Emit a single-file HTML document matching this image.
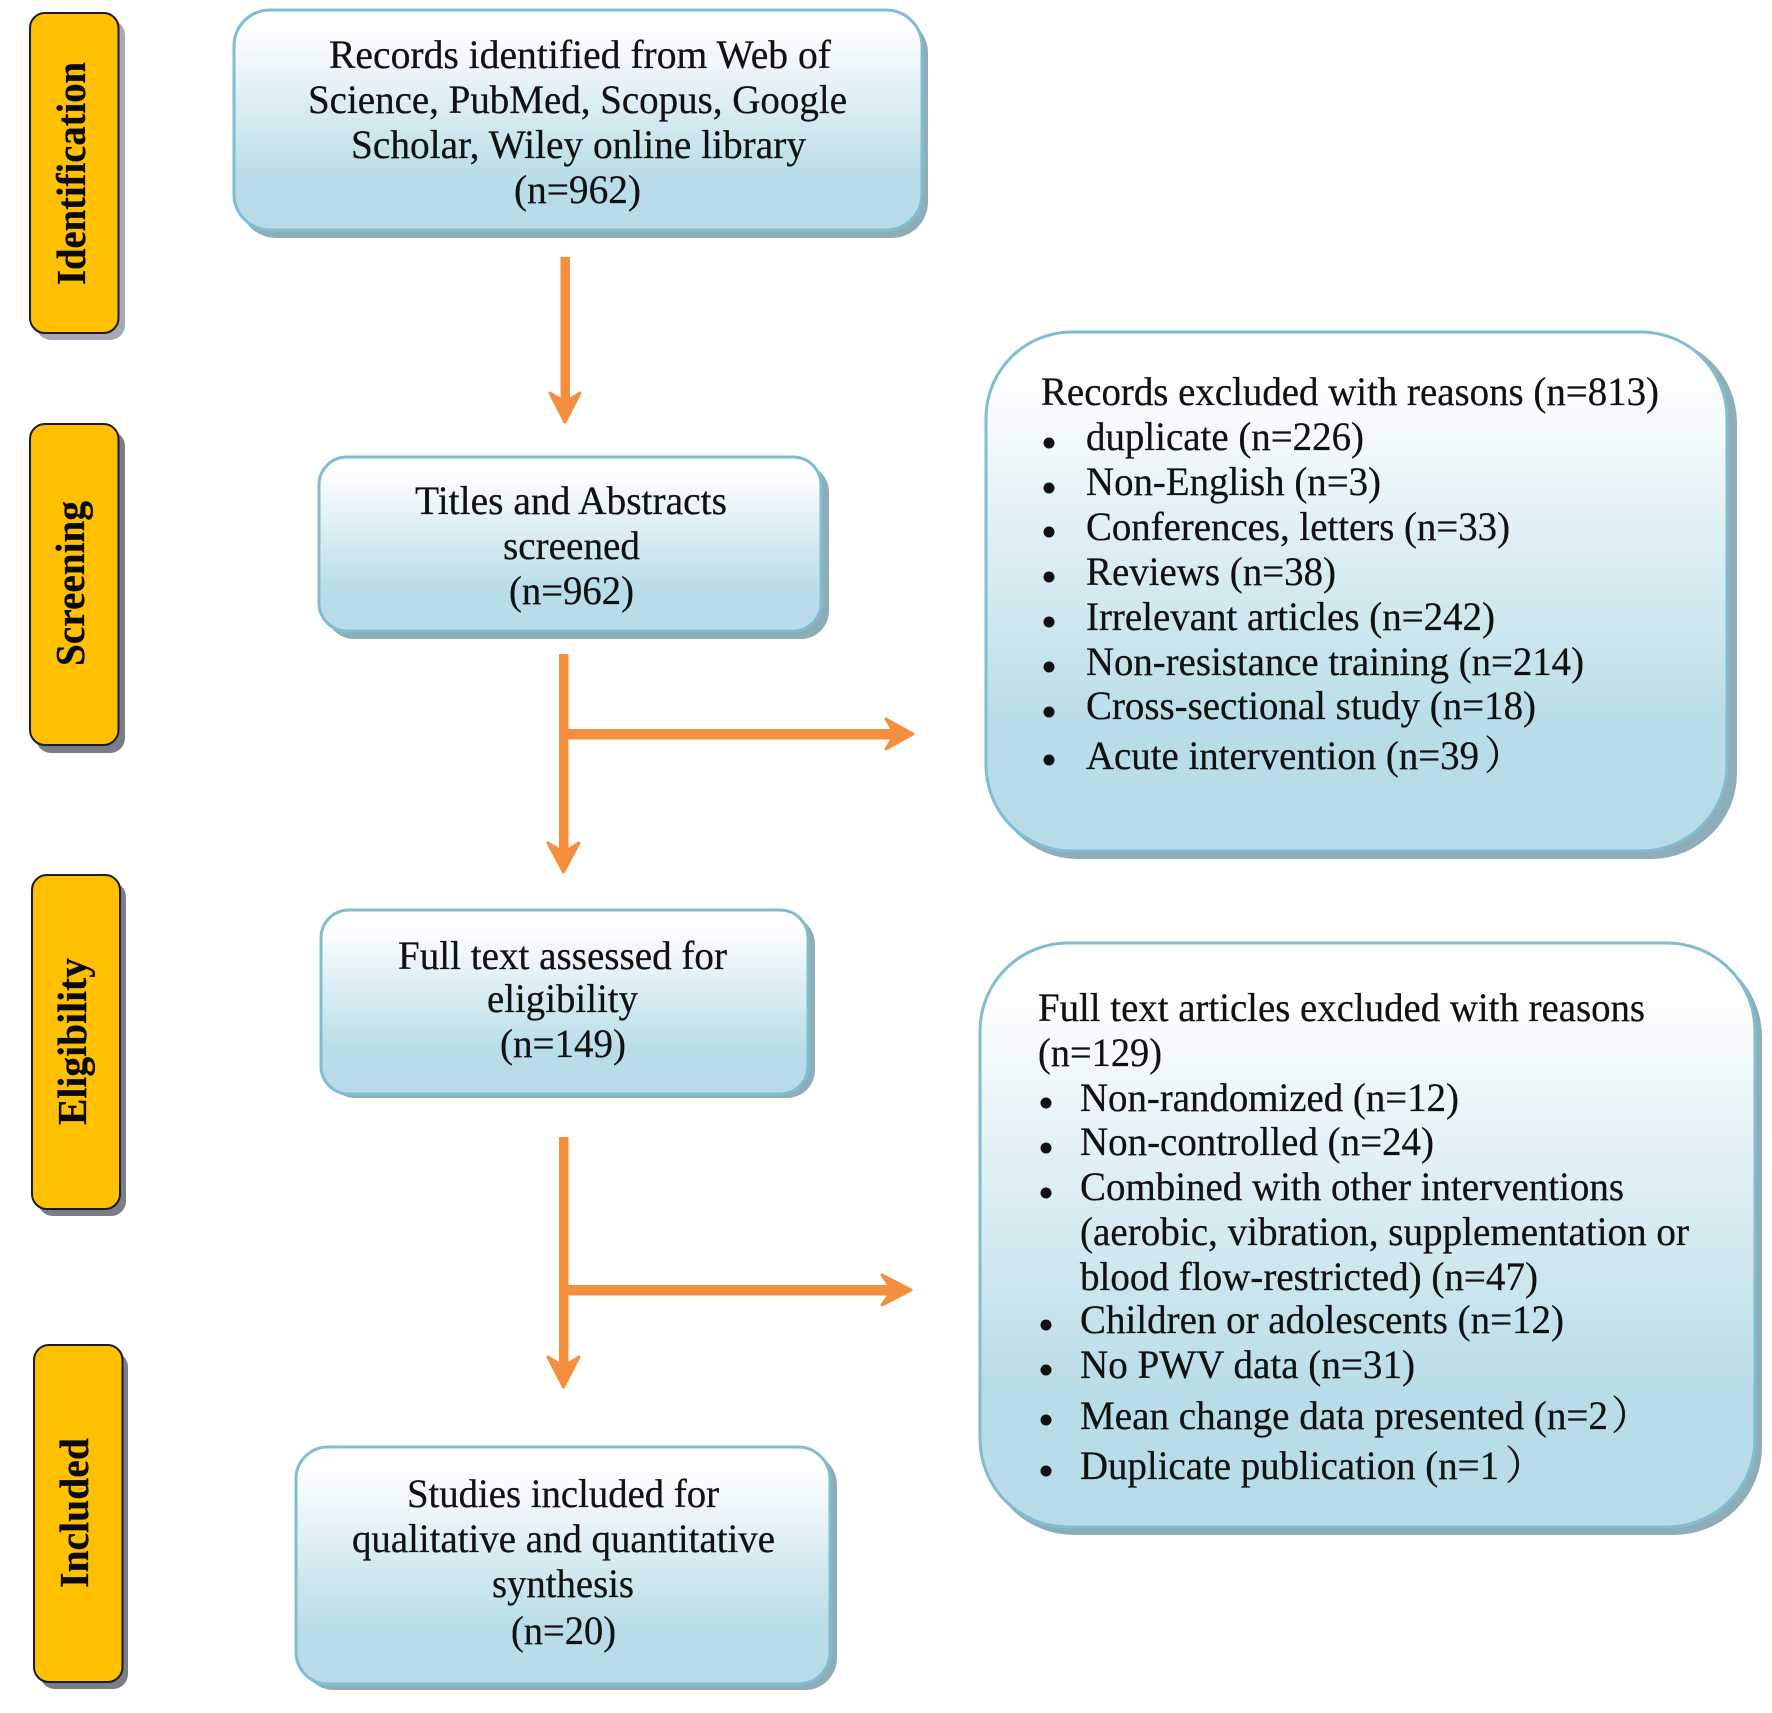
<!DOCTYPE html>
<html><head><meta charset="utf-8">
<style>
html,body{margin:0;padding:0;background:#fff;width:1772px;height:1713px;overflow:hidden}
svg{display:block}
text{font-family:"Liberation Serif","Noto Serif CJK SC",serif;font-size:40px;fill:#111;stroke:#111;stroke-width:.25px}
.p{font-weight:bold;font-size:41px;fill:#0a0a0a}
.box{fill:url(#g);stroke:#7fbdd0;stroke-width:3}
.bs{fill:#8fadb8}
.pill{fill:#FFC000;stroke:#1c1c1c;stroke-width:2}
.ps{fill:#7c7c88}
.a{fill:#F58F3E}
.h{fill:#F58F3E;stroke:#F58F3E;stroke-width:3;stroke-linejoin:round}
</style></head><body>
<svg xmlns="http://www.w3.org/2000/svg" width="1772" height="1713" viewBox="0 0 1772 1713">
<defs>
<linearGradient id="g" x1="0" y1="0" x2="0" y2="1">
<stop offset="0" stop-color="#ffffff"/><stop offset=".12" stop-color="#fbfdfe"/><stop offset=".76" stop-color="#b9dde8"/><stop offset="1" stop-color="#b7dbe7"/>
</linearGradient>
</defs>

<!-- side pills -->
<rect class="ps" style="fill:#a8a8b2" x="36" y="20" width="89" height="320" rx="15"/>
<rect class="pill" x="30" y="13" width="88.5" height="320" rx="15"/>
<rect class="ps" x="36" y="431" width="89" height="322" rx="15"/>
<rect class="pill" x="30" y="424" width="88.5" height="321" rx="15"/>
<rect class="ps" x="38" y="882" width="88" height="334" rx="15"/>
<rect class="pill" x="32" y="875" width="88" height="334" rx="15"/>
<rect class="ps" x="40" y="1352" width="88" height="337" rx="15"/>
<rect class="pill" x="34" y="1345" width="88.5" height="337" rx="15"/>
<text class="p" transform="translate(85,285) rotate(-90)" textLength="223" lengthAdjust="spacingAndGlyphs">Identification</text>
<text class="p" transform="translate(84,666) rotate(-90)" textLength="165" lengthAdjust="spacingAndGlyphs">Screening</text>
<text class="p" transform="translate(86,1125) rotate(-90)" textLength="167" lengthAdjust="spacingAndGlyphs">Eligibility</text>
<text class="p" transform="translate(88,1588) rotate(-90)" textLength="150" lengthAdjust="spacingAndGlyphs">Included</text>

<!-- boxes -->
<rect class="bs" x="240" y="17" width="688" height="221" rx="36"/>
<rect class="box" x="234" y="10" width="688" height="220" rx="36"/>
<rect class="bs" x="326" y="464" width="503" height="175" rx="28"/>
<rect class="box" x="319" y="457" width="502" height="174" rx="28"/>
<rect class="bs" x="327" y="916" width="488" height="182" rx="28"/>
<rect class="box" x="321" y="910" width="487" height="184" rx="28"/>
<rect class="bs" x="302" y="1453" width="535" height="237" rx="32"/>
<rect class="box" x="296" y="1447" width="534" height="237" rx="32"/>
<rect class="bs" x="992" y="337" width="745" height="522" rx="86"/>
<rect class="box" x="986" y="332" width="741" height="519" rx="86"/>
<rect class="bs" x="986" y="949" width="776" height="586" rx="88"/>
<rect class="box" x="980" y="943" width="775" height="584" rx="88"/>

<!-- box 1 text -->
<text x="329" y="68" textLength="502" lengthAdjust="spacingAndGlyphs">Records identified from Web of</text>
<text x="308" y="113" textLength="539" lengthAdjust="spacingAndGlyphs">Science, PubMed, Scopus, Google</text>
<text x="351" y="158" textLength="455" lengthAdjust="spacingAndGlyphs">Scholar, Wiley online library</text>
<text x="514" y="203" textLength="127" lengthAdjust="spacingAndGlyphs">(n=962)</text>

<!-- box 2 text -->
<text x="415" y="514" textLength="312" lengthAdjust="spacingAndGlyphs">Titles and Abstracts</text>
<text x="503" y="559" textLength="137" lengthAdjust="spacingAndGlyphs">screened</text>
<text x="509" y="604" textLength="125" lengthAdjust="spacingAndGlyphs">(n=962)</text>

<!-- box 3 text -->
<text x="398" y="969" textLength="329" lengthAdjust="spacingAndGlyphs">Full text assessed for</text>
<text x="487" y="1012" textLength="151" lengthAdjust="spacingAndGlyphs">eligibility</text>
<text x="500" y="1057" textLength="126" lengthAdjust="spacingAndGlyphs">(n=149)</text>

<!-- box 4 text -->
<text x="407" y="1507" textLength="312" lengthAdjust="spacingAndGlyphs">Studies included for</text>
<text x="352" y="1552" textLength="423" lengthAdjust="spacingAndGlyphs">qualitative and quantitative</text>
<text x="492" y="1597" textLength="142" lengthAdjust="spacingAndGlyphs">synthesis</text>
<text x="511" y="1644" textLength="105" lengthAdjust="spacingAndGlyphs">(n=20)</text>

<!-- right box 1 -->
<text x="1041" y="405" textLength="618" lengthAdjust="spacingAndGlyphs">Records excluded with reasons (n=813)</text>
<g fill="#111">
<circle cx="1049" cy="443" r="5.5"/><circle cx="1049" cy="488" r="5.5"/><circle cx="1049" cy="532" r="5.5"/><circle cx="1049" cy="577" r="5.5"/><circle cx="1049" cy="622" r="5.5"/><circle cx="1049" cy="667" r="5.5"/><circle cx="1049" cy="712" r="5.5"/><circle cx="1049" cy="760" r="5.5"/>
</g>
<text x="1086" y="450" textLength="278" lengthAdjust="spacingAndGlyphs">duplicate (n=226)</text>
<text x="1086" y="495" textLength="295" lengthAdjust="spacingAndGlyphs">Non-English (n=3)</text>
<text x="1086" y="540" textLength="424" lengthAdjust="spacingAndGlyphs">Conferences, letters (n=33)</text>
<text x="1086" y="585" textLength="250" lengthAdjust="spacingAndGlyphs">Reviews (n=38)</text>
<text x="1086" y="630" textLength="409" lengthAdjust="spacingAndGlyphs">Irrelevant articles (n=242)</text>
<text x="1086" y="675" textLength="498" lengthAdjust="spacingAndGlyphs">Non-resistance training (n=214)</text>
<text x="1086" y="719" textLength="450" lengthAdjust="spacingAndGlyphs">Cross-sectional study (n=18)</text>
<text x="1086" y="769" textLength="393" lengthAdjust="spacingAndGlyphs">Acute intervention (n=39</text>
<text x="1484" y="769">）</text>

<!-- right box 2 -->
<text x="1038" y="1021" textLength="607" lengthAdjust="spacingAndGlyphs">Full text articles excluded with reasons</text>
<text x="1038" y="1066" textLength="124" lengthAdjust="spacingAndGlyphs">(n=129)</text>
<g fill="#111">
<circle cx="1046" cy="1103" r="5.5"/><circle cx="1046" cy="1148" r="5.5"/><circle cx="1046" cy="1193" r="5.5"/><circle cx="1046" cy="1325" r="5.5"/><circle cx="1046" cy="1370" r="5.5"/><circle cx="1046" cy="1420" r="5.5"/><circle cx="1046" cy="1471" r="5.5"/>
</g>
<text x="1080" y="1111" textLength="379" lengthAdjust="spacingAndGlyphs">Non-randomized (n=12)</text>
<text x="1080" y="1155" textLength="354" lengthAdjust="spacingAndGlyphs">Non-controlled (n=24)</text>
<text x="1080" y="1200" textLength="544" lengthAdjust="spacingAndGlyphs">Combined with other interventions</text>
<text x="1080" y="1245" textLength="609" lengthAdjust="spacingAndGlyphs">(aerobic, vibration, supplementation or</text>
<text x="1080" y="1290" textLength="458" lengthAdjust="spacingAndGlyphs">blood flow-restricted) (n=47)</text>
<text x="1080" y="1333" textLength="484" lengthAdjust="spacingAndGlyphs">Children or adolescents (n=12)</text>
<text x="1080" y="1378" textLength="335" lengthAdjust="spacingAndGlyphs">No PWV data (n=31)</text>
<text x="1080" y="1429" textLength="528" lengthAdjust="spacingAndGlyphs">Mean change data presented (n=2</text>
<text x="1611" y="1429">）</text>
<text x="1080" y="1479" textLength="419" lengthAdjust="spacingAndGlyphs">Duplicate publication (n=1</text>
<text x="1505" y="1479">）</text>

<!-- arrows -->
<rect class="a" x="560.5" y="257" width="9.5" height="145"/>
<path class="h" d="M550 393 L560 399 L570 399 L580 393 L565 422 Z"/>

<rect class="a" x="559" y="654" width="9.5" height="195"/>
<path class="h" d="M548 843 L558 849 L569 849 L579 843 L563.5 872 Z"/>
<rect class="a" x="566" y="729" width="330" height="10.5"/>
<path class="h" d="M886 719 L892 729 L892 739 L886 749 L913 734 Z"/>

<rect class="a" x="559" y="1137" width="9.5" height="225"/>
<path class="h" d="M548 1357 L558 1363 L569 1363 L579 1357 L563.5 1387 Z"/>
<rect class="a" x="566" y="1285" width="328" height="10.5"/>
<path class="h" d="M882 1275 L889 1285 L889 1295 L882 1305 L911 1290 Z"/>
</svg>
</body></html>
